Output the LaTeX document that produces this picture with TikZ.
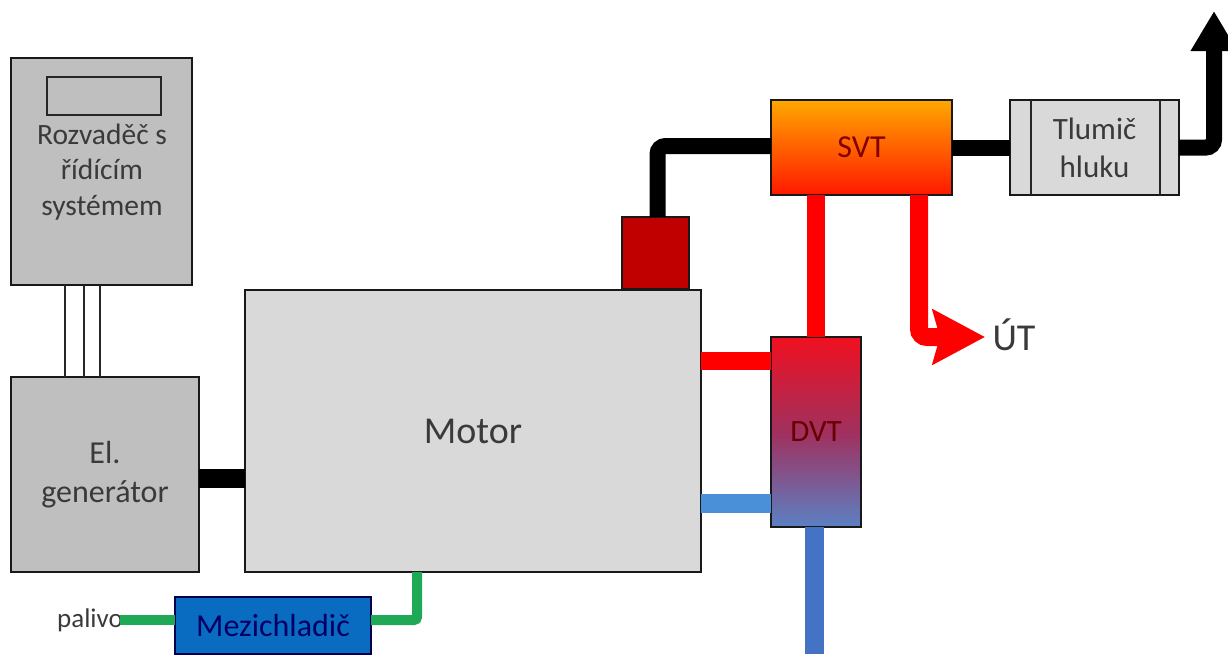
\documentclass[tikz,border=0pt]{standalone}
\usepackage{fontspec}
\setmainfont{Carlito}
\usetikzlibrary{arrows.meta}
\definecolor{pgray}{HTML}{BFBFBF}
\definecolor{lgray}{HTML}{D9D9D9}
\definecolor{dred}{HTML}{C00000}
\definecolor{mblue}{HTML}{0A6CC0}
\definecolor{pblue}{HTML}{4472C4}
\definecolor{sblue}{HTML}{4A90D9}
\definecolor{pgreen}{HTML}{1FA855}
\definecolor{txt}{HTML}{3A3A3A}
\definecolor{svttop}{HTML}{FFA800}
\definecolor{svtbot}{HTML}{FF1800}
\definecolor{dvttop}{HTML}{F01020}
\definecolor{dvtmid}{HTML}{A0305E}
\definecolor{dvtbot}{HTML}{5B80C4}
\tikzset{
  box/.style={draw=black!90,line width=2pt,inner sep=0pt,outer sep=0pt,align=center,text=txt,font=\fontsize{31}{38}\selectfont},
  thin pipe/.style={line width=2.6pt,draw=black!85},
  blackpipe/.style={line width=16pt,black,rounded corners=8pt},
  redpipe/.style={line width=18pt,red,rounded corners=8pt},
  greenpipe/.style={line width=10pt,pgreen,rounded corners=3pt}
}
\begin{document}
\begin{tikzpicture}[x=1pt,y=-1pt]
\useasboundingbox (0,0) rectangle (1228,654);
\clip (0,0) rectangle (1228,654);
% boxes
\node[box,fill=pgray,minimum width=181pt,minimum height=227pt] (roz) at (101.5,171.5) {};
\node[box,draw=black!85,fill=pgray,minimum width=114pt,minimum height=38pt] (disp) at (104,96) {};
\node[text=txt,align=center,font=\fontsize{29.5}{35.5}\selectfont] (roztext) at (102,172) {Rozvaděč s\\řídícím\\systémem};
\node[box,fill=pgray,minimum width=188pt,minimum height=195pt,font=\fontsize{32}{39}\selectfont] (gen) at (105,474.5) {El.\\generátor};
\node[box,fill=lgray,minimum width=456pt,minimum height=282pt,font=\fontsize{38}{44}\selectfont] (motor) at (473,431) {Motor};
\node[box,fill=dred,minimum width=67pt,minimum height=72pt] (tc) at (655.5,253) {};
\node[box,top color=svttop,bottom color=svtbot,minimum width=181pt,minimum height=95pt,text=red!50!black,font=\fontsize{32}{38}\selectfont] (svt) at (861.5,147.5) {SVT};
\node[box,fill=lgray,minimum width=169pt,minimum height=95pt] (tl) at (1094.5,147.5) {Tlumič\\hluku};
\node[box,top color=dvttop,bottom color=dvtbot,middle color=dvtmid,minimum width=90pt,minimum height=190pt,text=red!40!black] (dvt) at (816,432) {DVT};
\node[box,fill=mblue,draw=black!70!blue,minimum width=196pt,minimum height=57pt,text=blue!40!black,font=\fontsize{32}{38}\selectfont] (mez) at (273,625.5) {Mezichladič};
\node[text=txt,font=\fontsize{27}{32}\selectfont] (pal) at (90,620) {palivo};
\node[text=txt,font=\fontsize{38}{44}\selectfont,anchor=west] (ut) at (989,335) {ÚT};
% named free ends
\coordinate (exh) at (1214,11);
\coordinate (heatout) at (919,195);
\coordinate (heattip) at (985,337);
\coordinate (fuel) at (120,620);
\coordinate (mg) at (417,572);
\coordinate (rf) at (0,361);
\coordinate (bf) at (0,503);
\coordinate (bottom) at (0,654);
% muffler bands
\draw[thin pipe] ([xshift=21pt]tl.north west) -- ([xshift=21pt]tl.south west);
\draw[thin pipe] ([xshift=-19pt]tl.north east) -- ([xshift=-19pt]tl.south east);
% signal cables
\draw[thin pipe] (65,285) coordinate (c1) -- (c1 |- gen.north);
\draw[thin pipe] (84,285) coordinate (c2) -- (c2 |- gen.north);
\draw[thin pipe] (100,285) coordinate (c3) -- (c3 |- gen.north);
% black pipes
\draw[blackpipe] ([xshift=2pt]tc.north) |- ([yshift=1.5pt]svt.west);
\draw[blackpipe] (svt.east) -- (tl.west);
\draw[blackpipe,-{Triangle[length=40pt,width=44pt]}] (tl.east) -| (exh);
\draw[line width=19pt,black] (gen.east |- 0,478) -- (motor.west |- 0,478);
% red pipes
\draw[redpipe] (svt.south -| dvt.north) -- (dvt.north);
\draw[redpipe,-{Stealth[length=52pt,width=54pt,inset=7pt]}] (heatout) |- (heattip);
\draw[redpipe] (motor.east |- rf) -- (dvt.west |- rf);
% blue pipes
\draw[line width=19pt,sblue] (motor.east |- bf) -- (dvt.west |- bf);
\draw[line width=19pt,pblue] ([xshift=-1.5pt]dvt.south) -- ([xshift=-1.5pt]dvt.south |- bottom);
% green pipes
\draw[greenpipe] (fuel) -- (mez.west |- fuel);
\draw[greenpipe] (mez.east |- fuel) -| (mg);
\end{tikzpicture}
\end{document}
